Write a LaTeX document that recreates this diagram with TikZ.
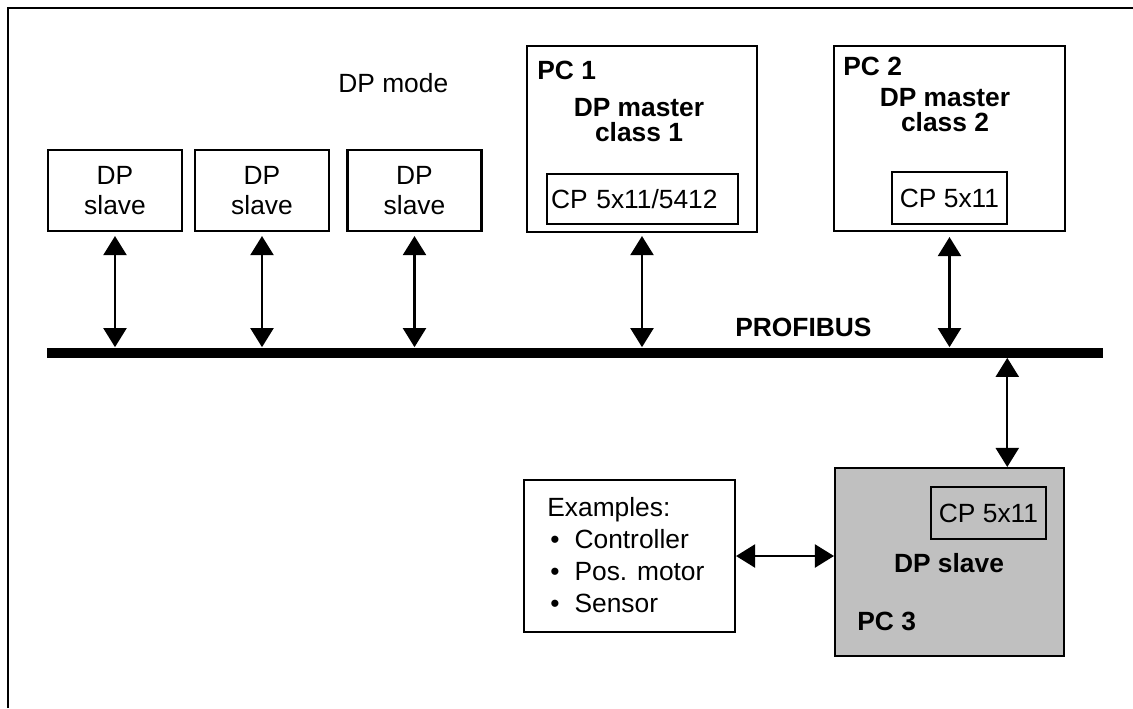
\documentclass[tikz,border=0pt]{standalone}
\usepackage{fontspec}
\setmainfont{Liberation Sans}
\usetikzlibrary{arrows.meta,calc}
\definecolor{pcgray}{RGB}{192,192,192}
\newcommand\normtext{\fontsize{15}{17}\selectfont}
\newcommand\boldtext{\fontsize{15}{17}\selectfont\bfseries}
\newcommand\roletext{\fontsize{15}{14.2}\selectfont\bfseries}

\begin{document}
\begin{tikzpicture}[x=0.02cm,y=-0.02cm,
  font=\normtext,
  box/.style={draw,line width=1.2pt,inner sep=0pt},
  lbl/.style={inner sep=0pt},
  link/.style={<->,line width=1.2pt},
  >={Triangle[width=0.46cm,length=0.38cm]}]
\useasboundingbox (0,0) rectangle (1133,708);

% Frame (top and left edge only)
\draw[line width=1.6pt] (8,708) -- (8,8) -- (1133,8);

% Bus line
\node[fill=black,inner sep=0pt,minimum width=21.12cm,minimum height=0.2cm] (bus) at (575,352.5) {};
\node[lbl,font=\boldtext,anchor=base west] (busname) at (735,336) {PROFIBUS};

\node[lbl,anchor=base west] (mode) at (338,92) {DP mode};

% DP slaves
\node[box,minimum width=2.68cm,minimum height=1.62cm,align=center] (s1) at (115,190.5) {DP\\slave};
\node[box,minimum width=2.68cm,minimum height=1.62cm,align=center] (s2) at (262,190.5) {DP\\slave};
\node[box,minimum width=2.68cm,minimum height=1.62cm,align=center] (s3) at (414.5,190.5) {DP\\slave};

% Masters
\node[box,minimum width=4.6cm,minimum height=3.72cm] (pc1) at (642,139) {};
\node[lbl,font=\boldtext,anchor=base west] (pc1name) at (537,79) {PC 1};
\node[lbl,font=\roletext,align=center] (pc1role) at (639,120) {DP master\\class 1};
\node[box,minimum width=3.82cm,minimum height=1cm,inner xsep=0.08cm,text width=3.66cm,align=left] (cp1) at (642.5,199) {CP 5x11/5412};

\node[box,minimum width=4.62cm,minimum height=3.7cm] (pc2) at (949.5,138.5) {};
\node[lbl,font=\boldtext,anchor=base west] (pc2name) at (843,75) {PC 2};
\node[lbl,font=\roletext,align=center] (pc2role) at (945,110.5) {DP master\\class 2};
\node[box,minimum width=2.3cm,minimum height=1.04cm] (cp2) at (949.5,198) {CP 5x11};

% PC as DP slave
\node[box,fill=pcgray,minimum width=4.58cm,minimum height=3.76cm] (pc3) at (949.5,562) {};
\node[box,minimum width=2.3cm,minimum height=1.04cm] (cp3) at (988.5,513) {CP 5x11};
\node[lbl,font=\boldtext,anchor=base] (pc3role) at (949,572) {DP slave};
\node[lbl,font=\boldtext,anchor=base west] (pc3name) at (857,630) {PC 3};
\coordinate (pc3in) at ($(pc3.north)!0.5!(pc3.north east)$);

% Examples
\node[box,minimum width=4.22cm,minimum height=3.04cm] (ex) at (629.5,556) {};
\node[lbl,font=\fontsize{15}{18.2}\selectfont,align=left,anchor=north west] (extext) at (547,497.5)
  {Examples:\\
   \hspace*{0.06cm}\textbullet\hspace{0.3cm}Controller\\
   \hspace*{0.06cm}\textbullet\hspace{0.3cm}Pos. motor\\
   \hspace*{0.06cm}\textbullet\hspace{0.3cm}Sensor};

% Connections
\draw[link,shorten <=0.08cm] (s1.south) -- (s1.south |- bus.north);
\draw[link,shorten <=0.08cm] (s2.south) -- (s2.south |- bus.north);
\draw[link,shorten <=0.08cm] (s3.south) -- (s3.south |- bus.north);
\draw[link,shorten <=0.06cm] (pc1.south) -- (pc1.south |- bus.north);
\draw[link,shorten <=0.1cm] (pc2.south) -- (pc2.south |- bus.north);
\draw[link] (bus.south -| pc3in) -- (pc3in);
\draw[link] (ex.east) -- (ex.east -| pc3.west);

\end{tikzpicture}
\end{document}
